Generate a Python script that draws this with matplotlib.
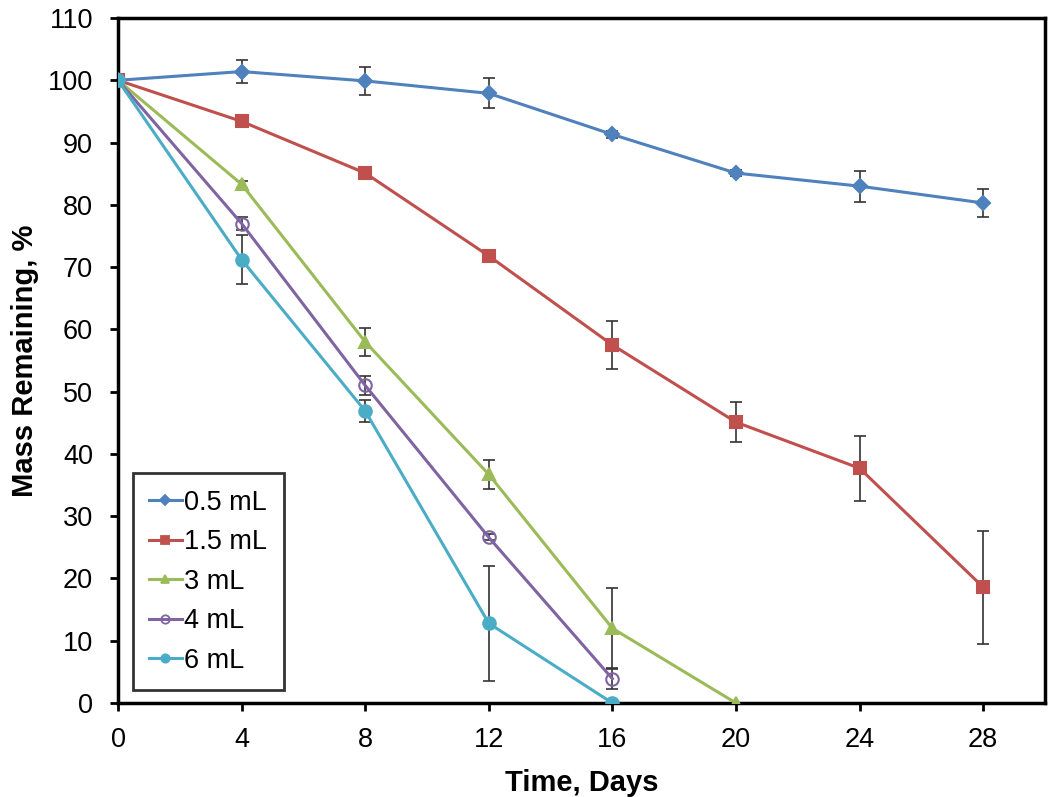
import matplotlib.pyplot as plt

plt.rcParams['font.family'] = ['Liberation Sans', 'DejaVu Sans']

days = [0, 4, 8, 12, 16, 20, 24, 28]

# mass remaining (%) and error bars per volume
m_05 = [100, 101.4, 99.9, 97.9, 91.3, 85.1, 83.0, 80.3]
e_05 = [0.4, 1.8, 2.2, 2.4, 0.6, 0.5, 2.5, 2.3]
m_15 = [100, 93.4, 85.1, 71.8, 57.5, 45.1, 37.7, 18.6]
e_15 = [0.4, 0.5, 0.5, 0.5, 3.8, 3.2, 5.2, 9.1]
m_3 = [100, 83.3, 58.0, 36.7, 12.0, 0]
e_3 = [0.4, 0.6, 2.2, 2.4, 6.4, 0]
m_4 = [100, 77.0, 51.0, 26.6, 3.9]
e_4 = [0.4, 1.0, 1.5, 0.5, 1.6]
m_6 = [100, 71.2, 46.9, 12.8, 0]
e_6 = [0.4, 3.9, 1.8, 9.2, 0]

labels = ['0.5 mL', '1.5 mL', '3 mL', '4 mL', '6 mL']
colors = ['#4F81BD', '#C0504D', '#9BBB59', '#8064A2', '#4BACC6']

fig = plt.figure(figsize=(10.5, 7.97), dpi=100)
ax = fig.add_axes([0.1124, 0.1179, 0.8828, 0.8595])

series = [(m_05, e_05, 'D', colors[0]),
          (m_15, e_15, 's', colors[1]),
          (m_3, e_3, '^', colors[2]),
          (m_4, e_4, 'o', colors[3]),
          (m_6, e_6, 'o', colors[4])]

handles = []
for i, (m, e, mk, c) in enumerate(series):
    x = days[:len(m)]
    ax.errorbar(x, m, yerr=e, fmt='none', ecolor='#333333', elinewidth=1.2,
                capsize=4, capthick=1.2, zorder=2)
    face = 'none' if i == 3 else c
    ax.plot(x, m, color=c, lw=2.2, marker=mk, ms=9 if mk != 'D' else 7,
            mfc=face, mec=c, mew=1.5, zorder=3)
    # smaller markers for the legend
    h, = ax.plot([], [], color=c, lw=2.2, marker=mk, ms=6 if mk != 'D' else 5,
                 mfc=face, mec=c, mew=1.3, label=labels[i])
    handles.append(h)

ax.set_xlim(0, 30)
ax.set_ylim(0, 110)
ax.set_xticks(days)
ax.set_yticks(range(0, 111, 10))
ax.tick_params(direction='out', length=6, width=2, labelsize=19.5, colors='black')
ax.tick_params(axis='y', pad=12)
ax.tick_params(axis='x', pad=11)
ax.tick_params(top=False, right=False)
for s in ax.spines.values():
    s.set_linewidth(2.5)

ax.set_xlabel('Time, Days', fontsize=21, fontweight='bold', labelpad=12)
ax.set_ylabel('Mass Remaining, %', fontsize=21, fontweight='bold', labelpad=6)

leg = ax.legend(handles=handles, loc='lower left', bbox_to_anchor=(0.016, 0.019),
                borderaxespad=0, fontsize=19.5, frameon=True, fancybox=False,
                handlelength=1.2, handletextpad=0.1, borderpad=0.6,
                labelspacing=0.5)
leg.get_frame().set_edgecolor('black')
leg.get_frame().set_linewidth(2)

fig.savefig('out.png', dpi=100)
